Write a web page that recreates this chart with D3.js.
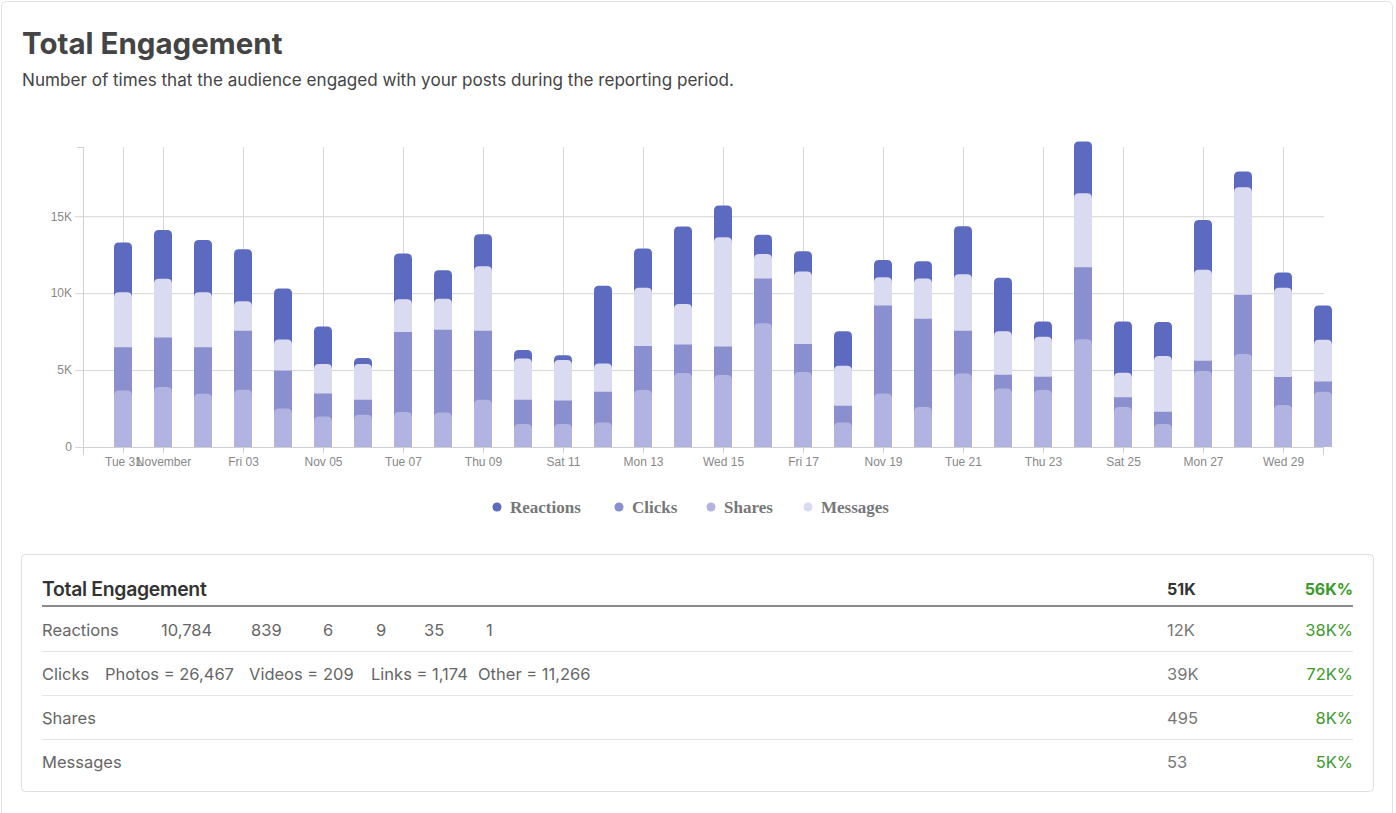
<!DOCTYPE html>
<html>
<head>
<meta charset="utf-8">
<script src="https://cdn.jsdelivr.net/npm/d3@7"></script>
<style>
  body { margin: 0; background: #fff; }
  svg { display: block; }
</style>
</head>
<body>
<div id="page"></div>
<script>
// days of the reporting period (Oct 31 .. Nov 30, 2023)
const days = d3.timeDay.range(new Date(2023, 9, 31), new Date(2023, 11, 1));

// values per day
const shares = [3680, 3900, 3460, 3720, 2510, 1990, 2100, 2270, 2250, 3070, 1490, 1490, 1600, 3700, 4810, 4680,
  8050, 4870, 1600, 3480, 2600, 4780, 3810, 3700, 7010, 2600, 1490, 4940, 6040, 2730, 3590];
const clicks = [2810, 3220, 3030, 3830, 2470, 1490, 970, 5200, 5370, 4480, 1580, 1540, 1990, 2860, 1860, 1860,
  2900, 1820, 1080, 5720, 5730, 2770, 890, 870, 4680, 630, 800, 670, 3850, 1820, 670];
const messages = [3570, 3810, 3570, 1930, 2010, 1910, 2320, 2140, 2010, 4200, 2690, 2620, 1840, 3790, 2620, 7100,
  1600, 4720, 2600, 1840, 2620, 3680, 2830, 2590, 4800, 1600, 3620, 5910, 6990, 5800, 2710];
const reactions = [3230, 3180, 3400, 3380, 3310, 2450, 390, 2970, 1860, 2080, 540, 320, 5050, 2550, 5040, 2050,
  1240, 1320, 2250, 1120, 1130, 3120, 3470, 1000, 3360, 3330, 2210, 3240, 1020, 990, 2230];

const yMax = 19500;
const yTicks = [0, 5000, 10000, 15000];

const legendNames = ["Reactions", "Clicks", "Shares", "Messages"];
// stacking order, bottom to top
const stackOrder = ["Shares", "Clicks", "Messages", "Reactions"];

// summary table
const tableHeader = ["Total Engagement", "51K", "56K%"];
const tableLabels = ["Reactions", "Clicks", "Shares", "Messages"];
const tableDetails = [
  ["10,784", "839", "6", "9", "35", "1"],
  ["Photos = 26,467", "Videos = 209", "Links = 1,174", "Other = 11,266"],
  [],
  []
];
const tableTotals = ["12K", "39K", "495", "53"];
const tableChanges = ["38K%", "72K%", "8K%", "5K%"];

const seriesValues = { Reactions: reactions, Clicks: clicks, Shares: shares, Messages: messages };
const colors = { Reactions: "#5c6bc0", Clicks: "#8a8fd0", Shares: "#b1b3e0", Messages: "#dadbf0" };
const radius = { Reactions: 5, Clicks: 0, Shares: 5, Messages: 5 };

const W = 1396, H = 813;
const uiFont = "Inter, 'Noto Sans', sans-serif";
const axisFont = "'Liberation Sans', Arial, sans-serif";

const svg = d3.select("#page").append("svg")
  .attr("width", W)
  .attr("height", H);

// outer card
svg.append("rect")
  .attr("x", 1.5).attr("y", 1.5)
  .attr("width", 1391).attr("height", 830)
  .attr("rx", 5)
  .attr("fill", "#fff")
  .attr("stroke", "#e2e2e2");

svg.append("text")
  .attr("x", 22).attr("y", 54)
  .attr("font-family", uiFont)
  .attr("font-size", 29.5)
  .attr("font-weight", 700)
  .attr("fill", "#444")
  .text("Total Engagement");

svg.append("text")
  .attr("x", 22).attr("y", 86)
  .attr("font-family", uiFont)
  .attr("font-size", 17.1)
  .attr("fill", "#444")
  .text("Number of times that the audience engaged with your posts during the reporting period.");

// chart area
const plot = { left: 83, top: 147, width: 1241, height: 300 };

const x = d3.scaleTime()
  .domain([new Date(2023, 9, 30), new Date(2023, 10, 30)])
  .range([0, 1240]);

const y = d3.scaleLinear()
  .domain([0, yMax])
  .range([plot.height, 0]);

const g = svg.append("g")
  .attr("transform", `translate(${plot.left}, ${plot.top})`);

// horizontal grid
g.append("g")
  .selectAll("line")
  .data(yTicks)
  .join("line")
  .attr("x1", -8).attr("x2", plot.width)
  .attr("y1", d => y(d) + 0.5).attr("y2", d => y(d) + 0.5)
  .attr("stroke", "#d6d6d6");

// vertical grid
const xTicks = x.ticks(d3.timeDay.every(2));
g.append("g")
  .selectAll("line")
  .data(xTicks)
  .join("line")
  .attr("x1", d => Math.round(x(d)) + 0.5).attr("x2", d => Math.round(x(d)) + 0.5)
  .attr("y1", 0).attr("y2", plot.height)
  .attr("stroke", "#d6d6d6");

// y axis
const yAxis = g.append("g")
  .call(d3.axisLeft(y)
    .tickValues(yTicks)
    .tickSize(0)
    .tickPadding(11)
    .tickFormat(d => d === 0 ? "0" : (d / 1000) + "K"));
yAxis.select(".domain").attr("stroke", "#d0d0d0").attr("d", `M-6,0.5H0.5V${plot.height}`);
yAxis.selectAll("text").attr("fill", "#888").attr("font-family", axisFont).attr("font-size", 12);

// x axis
const xAxis = g.append("g")
  .attr("transform", `translate(0, ${plot.height})`)
  .call(d3.axisBottom(x)
    .ticks(d3.timeDay.every(2))
    .tickSizeInner(6)
    .tickSizeOuter(8)
    .tickPadding(4));
xAxis.select(".domain").attr("stroke", "#d0d0d0");
xAxis.selectAll(".tick line").attr("stroke", "#d0d0d0");
xAxis.selectAll("text").attr("fill", "#888").attr("font-family", axisFont).attr("font-size", 12);

// stacked bars, each segment with rounded top
const stack = d3.stack().keys(stackOrder)(days.map((d, i) => {
  const row = { date: d };
  stackOrder.forEach(k => { row[k] = seriesValues[k][i]; });
  return row;
}));

const barW = 18;
function topRounded(x0, y0, w, h, r) {
  r = Math.min(r, h / 2, w / 2);
  return `M${x0},${y0 + h}V${y0 + r}Q${x0},${y0} ${x0 + r},${y0}H${x0 + w - r}Q${x0 + w},${y0} ${x0 + w},${y0 + r}V${y0 + h}Z`;
}

// draw from the top series down, each one reaching the axis
stack.slice().reverse().forEach(layer => {
  g.append("g")
    .selectAll("path")
    .data(layer)
    .join("path")
    .attr("d", d => topRounded(x(d.data.date) - barW / 2, y(d[1]), barW, y(0) - y(d[1]), radius[layer.key]))
    .attr("fill", colors[layer.key]);
});

// legend
const legendX = [497, 619, 711, 808];
const legend = svg.append("g")
  .selectAll("g")
  .data(legendNames)
  .join("g")
  .attr("transform", (d, i) => `translate(${legendX[i]}, 507)`);
legend.append("circle").attr("r", 4.5).attr("fill", d => colors[d]);
legend.append("text")
  .attr("x", 13).attr("dy", "0.35em")
  .attr("font-family", "'Liberation Serif', 'Times New Roman', serif")
  .attr("font-weight", 700)
  .attr("font-size", 17)
  .attr("fill", "#777")
  .text(d => d);

// summary table card
svg.append("rect")
  .attr("x", 21.5).attr("y", 554.5)
  .attr("width", 1352).attr("height", 237)
  .attr("rx", 4)
  .attr("fill", "#fff")
  .attr("stroke", "#dedede");

const tLeft = 42, tRight = 1353, tNum = 1167;
svg.append("text")
  .attr("x", tLeft).attr("y", 596)
  .attr("font-family", uiFont).attr("font-size", 19.4).attr("font-weight", 600)
  .attr("fill", "#333")
  .attr("letter-spacing", -0.3)
  .text(tableHeader[0]);
svg.append("text")
  .attr("x", tNum).attr("y", 595)
  .attr("font-family", uiFont).attr("font-size", 16).attr("font-weight", 700)
  .attr("fill", "#333")
  .text(tableHeader[1]);
svg.append("text")
  .attr("x", tRight).attr("y", 595)
  .attr("text-anchor", "end")
  .attr("font-family", uiFont).attr("font-size", 16).attr("font-weight", 700)
  .attr("fill", "#3b9a2a")
  .text(tableHeader[2]);
svg.append("line")
  .attr("x1", tLeft).attr("x2", tRight)
  .attr("y1", 606).attr("y2", 606)
  .attr("stroke", "#666").attr("stroke-width", 1.5);

const rowY = [630, 674, 718, 762];
const detailX = [
  [161, 251, 323, 376, 424, 486],
  [105, 249, 371, 478],
  [],
  []
];
const rows = svg.append("g")
  .selectAll("g")
  .data(tableLabels)
  .join("g")
  .attr("transform", (d, i) => `translate(0, ${rowY[i]})`)
  .attr("font-family", uiFont)
  .attr("font-size", 16.5);

rows.append("text").attr("x", tLeft).attr("dy", "0.35em").attr("fill", "#666").text(d => d);
rows.each(function (d, i) {
  d3.select(this).selectAll("text.detail")
    .data(tableDetails[i])
    .join("text")
    .attr("class", "detail")
    .attr("x", (t, j) => detailX[i][j])
    .attr("dy", "0.35em")
    .attr("fill", "#666")
    .text(t => t);
});
rows.append("text").attr("x", tNum).attr("dy", "0.35em").attr("fill", "#777").text((d, i) => tableTotals[i]);
rows.append("text").attr("x", tRight).attr("dy", "0.35em").attr("text-anchor", "end")
  .attr("fill", "#3b9a2a").text((d, i) => tableChanges[i]);
rows.filter((d, i) => i < tableLabels.length - 1)
  .append("line")
  .attr("x1", tLeft).attr("x2", tRight)
  .attr("y1", 21.5).attr("y2", 21.5)
  .attr("stroke", "#e4e4e4");
</script>
</body>
</html>
